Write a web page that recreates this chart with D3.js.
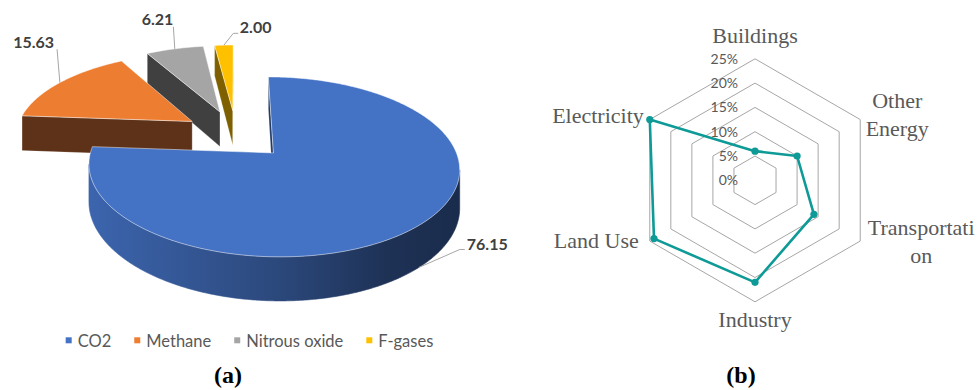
<!DOCTYPE html>
<html>
<head>
<meta charset="utf-8">
<script src="https://cdn.jsdelivr.net/npm/d3@7"></script>
<style>
  html, body { margin: 0; padding: 0; background: #fff; }
  svg { display: block; }
</style>
</head>
<body>
<svg id="chart" width="979" height="390"></svg>
<script>
// ---- data -------------------------------------------------------------
const gases = ["CO2", "Methane", "Nitrous oxide", "F-gases"];
const gasShares = [76.15, 15.63, 6.21, 2.00];

const sectors = ["Buildings", "Other Energy", "Transportation", "Industry", "Land Use", "Electricity"];
const sectorShares = [6, 10, 14, 21, 24, 25];
const radarTicks = [0, 5, 10, 15, 20, 25];

const panelLabels = ["(a)", "(b)"];

// ---- styles -----------------------------------------------------------
const gasColors = ["#4472C4", "#ED7D31", "#A5A5A5", "#FFC000"];
const gasFaceColors = ["#1F3864", "#5E3218", "#404040", "#7F6000"];
const textGray = "#595959";
const labelDark = "#404040";

const svg = d3.select("#chart");
const defs = svg.append("defs");

// =======================================================================
// (a) exploded 3-D pie
// =======================================================================
const pie3d = { cx: 236, cy: 134.3, rx: 177, ry: 82.1, persp: 0.15, explode: 0.3, depth: 36 };

// disc coordinates (u to the right, v toward the viewer, z = 0 top / 1 bottom) -> screen
function project(u, v, z) {
  const s = 1 / (1 - pie3d.persp * v);
  return [pie3d.cx + pie3d.rx * u * s, pie3d.cy + pie3d.ry * v * s + z * pie3d.depth * s];
}
function signedArea(pts) {
  let a = 0;
  for (let i = 0; i < pts.length; i++) {
    const p = pts[i], q = pts[(i + 1) % pts.length];
    a += p[0] * q[1] - q[0] * p[1];
  }
  return a / 2;
}
const poly = d3.line().curve(d3.curveLinearClosed);

const arcs = d3.pie().sort(null).value(d => d)(gasShares);

const slices = arcs.map((a, i) => {
  const mid = (a.startAngle + a.endAngle) / 2;
  const ou = pie3d.explode * Math.sin(mid);
  const ov = -pie3d.explode * Math.cos(mid);
  const rim = (ang, z) => project(ou + Math.sin(ang), ov - Math.cos(ang), z);
  const ctr = z => project(ou, ov, z);
  const n = Math.max(2, Math.ceil((a.endAngle - a.startAngle) / 0.01) + 1);
  const angs = d3.range(n).map(k => a.startAngle + (a.endAngle - a.startAngle) * k / (n - 1));
  return { i, arc: a, mid, ou, ov, rim, ctr, angs };
});

const pieG = svg.append("g").attr("class", "pie3d");

// paint from the back of the scene to the front
slices.slice().sort((p, q) => p.ov - q.ov).forEach(sl => {
  const g = pieG.append("g");
  const col = d3.color(gasColors[sl.i]);
  const a0 = sl.arc.startAngle, a1 = sl.arc.endAngle;

  // side wall gradient, lighter on the left, darker on the right
  const topPts = sl.angs.map(a => sl.rim(a, 0));
  const botPts = sl.angs.map(a => sl.rim(a, 1));
  const xs = topPts.map(p => p[0]);
  const gid = "wall" + sl.i;
  const grad = defs.append("linearGradient").attr("id", gid)
    .attr("gradientUnits", "userSpaceOnUse")
    .attr("x1", d3.min(xs)).attr("x2", d3.max(xs)).attr("y1", 0).attr("y2", 0);
  [[0, 0.33], [0.5, 1.25], [0.8, 2.3], [1, 2.65]].forEach(([o, k]) =>
    grad.append("stop").attr("offset", o).attr("stop-color", col.darker(k).formatHex()));

  // outer wall: only the segments facing the viewer
  let run = [];
  const runs = [];
  for (let k = 0; k < sl.angs.length - 1; k++) {
    const quad = [topPts[k], topPts[k + 1], botPts[k + 1], botPts[k]];
    if (signedArea(quad) < 0) { run.push(k); }
    else if (run.length) { runs.push(run); run = []; }
  }
  if (run.length) runs.push(run);
  runs.forEach(r => {
    const first = r[0], last = r[r.length - 1] + 1;
    const pts = topPts.slice(first, last + 1).concat(botPts.slice(first, last + 1).reverse());
    g.append("path").attr("d", poly(pts))
      .attr("fill", `url(#${gid})`).attr("stroke", `url(#${gid})`).attr("stroke-width", 0.6);
  });

  // radial cut faces
  const startFace = [sl.ctr(0), sl.rim(a0, 0), sl.rim(a0, 1), sl.ctr(1)];
  const endFace = [sl.ctr(0), sl.rim(a1, 0), sl.rim(a1, 1), sl.ctr(1)];
  if (signedArea(startFace) < 0)
    g.append("path").attr("d", poly(startFace)).attr("fill", gasFaceColors[sl.i])
      .attr("stroke", "rgba(255,255,255,0.35)").attr("stroke-width", 0.6);
  if (signedArea(endFace) > 0)
    g.append("path").attr("d", poly(endFace)).attr("fill", gasFaceColors[sl.i])
      .attr("stroke", "rgba(255,255,255,0.35)").attr("stroke-width", 0.6);

  // top surface
  g.append("path").attr("d", poly([sl.ctr(0)].concat(topPts)))
    .attr("fill", gasColors[sl.i])
    .attr("stroke", "rgba(255,255,255,0.6)").attr("stroke-width", 0.8)
    .attr("stroke-linejoin", "round");
});

// data labels with leader lines
const valueFmt = d3.format(".2f");
const labelPlace = [
  { rimZ: 1, elbow: [41, -18], tail: 5, anchor: "start", tx: 2, ty: 1 },
  { rimZ: 0, elbow: [-2.8, -33.5], tail: 0, anchor: "end", tx: -3, ty: -1 },
  { rimZ: 0, elbow: [-1.4, -22], tail: 0, anchor: "end", tx: 0, ty: -1.5 },
  { rimZ: 0, elbow: [9.4, -11.8], tail: 5, anchor: "start", tx: 1.5, ty: 0 }
];
slices.forEach(sl => {
  const lp = labelPlace[sl.i];
  const p0 = sl.rim(sl.mid, lp.rimZ);
  const p1 = [p0[0] + lp.elbow[0], p0[1] + lp.elbow[1]];
  const p2 = [p1[0] + lp.tail, p1[1]];
  pieG.append("path").attr("d", d3.line()([p0, p1, p2]))
    .attr("fill", "none").attr("stroke", "#A6A6A6").attr("stroke-width", 1);
  pieG.append("text")
    .attr("x", p2[0] + lp.tx).attr("y", p2[1] + lp.ty)
    .attr("text-anchor", lp.anchor)
    .attr("font-family", "Lato, 'Open Sans', sans-serif")
    .attr("font-weight", 700).attr("font-size", 16)
    .attr("fill", labelDark)
    .text(valueFmt(gasShares[sl.i]));
});

// legend
const legend = svg.append("g").attr("class", "legend");
const legendFont = { family: "Lato, 'Open Sans', sans-serif", size: 16.5 };
const legendItems = legend.selectAll("g").data(gases).join("g");
legendItems.append("rect")
  .attr("width", 6).attr("height", 6).attr("y", 337.3)
  .attr("fill", (d, i) => gasColors[i]);
legendItems.append("text")
  .attr("y", 346.6)
  .attr("font-family", legendFont.family).attr("font-size", legendFont.size)
  .attr("fill", textGray)
  .text(d => d);
{
  const widths = legendItems.select("text").nodes().map(n => n.getComputedTextLength());
  const gap = 23, boxToText = 12;
  const total = d3.sum(widths) + widths.length * boxToText + (widths.length - 1) * gap;
  let x = 249.5 - total / 2;
  legendItems.each(function (d, i) {
    d3.select(this).select("rect").attr("x", x);
    d3.select(this).select("text").attr("x", x + boxToText);
    x += boxToText + widths[i] + gap;
  });
}

// =======================================================================
// (b) radar chart
// =======================================================================
const radar = { cx: 755, cy: 180.3, radius: 121.5 };
const rScale = d3.scaleLinear().domain([0, d3.max(radarTicks)]).range([0, radar.radius]);
const axisAngle = i => i * 2 * Math.PI / sectors.length;
const radarPt = (i, r) => [radar.cx + r * Math.sin(axisAngle(i)), radar.cy - r * Math.cos(axisAngle(i))];

const radarG = svg.append("g").attr("class", "radar");

// hexagonal gridlines
radarG.selectAll("path.ring").data(radarTicks.filter(t => t > 0)).join("path")
  .attr("class", "ring")
  .attr("d", t => poly(sectors.map((s, i) => radarPt(i, rScale(t)))))
  .attr("fill", "none").attr("stroke", "#A6A6A6").attr("stroke-width", 1);

// tick labels
const pct = d => d + "%";
radarG.selectAll("text.tick").data(radarTicks).join("text")
  .attr("class", "tick")
  .attr("x", radar.cx - 17)
  .attr("y", t => radar.cy - rScale(t))
  .attr("dy", "0.36em")
  .attr("text-anchor", "end")
  .attr("font-family", "Lato, 'Open Sans', sans-serif").attr("font-size", 14)
  .attr("fill", textGray)
  .text(pct);

// series line + markers
const radial = d3.lineRadial()
  .angle((d, i) => axisAngle(i))
  .radius(d => rScale(d))
  .curve(d3.curveLinearClosed);
const seriesColor = "#0E9A96";
radarG.append("path")
  .attr("transform", `translate(${radar.cx},${radar.cy})`)
  .attr("d", radial(sectorShares))
  .attr("fill", "none").attr("stroke", seriesColor).attr("stroke-width", 2.6)
  .attr("stroke-linejoin", "round");
radarG.selectAll("circle").data(sectorShares).join("circle")
  .attr("cx", (d, i) => radarPt(i, rScale(d))[0])
  .attr("cy", (d, i) => radarPt(i, rScale(d))[1])
  .attr("r", 3.6).attr("fill", seriesColor);

// category labels, wrapped to the room beside the plot
const catFont = { family: "'Liberation Serif', 'Times New Roman', serif", size: 22 };
const measurer = svg.append("text")
  .attr("font-family", catFont.family).attr("font-size", catFont.size)
  .attr("visibility", "hidden");
const measure = s => { measurer.text(s); return measurer.node().getComputedTextLength(); };
function wrapLabel(text, maxW) {
  const lines = [];
  let cur = "";
  text.split(" ").forEach(w => {
    const cand = cur ? cur + " " + w : w;
    if (measure(cand) <= maxW || !cur) cur = cand;
    else { lines.push(cur); cur = w; }
  });
  lines.push(cur);
  const out = [];
  lines.forEach(line => {
    let rest = line;
    while (measure(rest) > maxW && rest.length > 1) {
      let k = rest.length - 1;
      while (k > 1 && measure(rest.slice(0, k)) > maxW) k--;
      out.push(rest.slice(0, k));
      rest = rest.slice(k);
    }
    out.push(rest);
  });
  return out;
}
const catPlace = [
  { anchor: "middle", dx: 0, dy: -16 },
  { anchor: "middle", dx: 37, dy: -11.5 },
  { anchor: "middle", dx: 61, dy: -6 },
  { anchor: "middle", dx: 0, dy: 25.5 },
  { anchor: "end", dx: -11, dy: 7 },
  { anchor: "end", dx: -6, dy: 3.5 }
];
const lineHeight = 28;
sectors.forEach((name, i) => {
  const v = radarPt(i, radar.radius);
  const cp = catPlace[i];
  const lines = wrapLabel(name, 112);
  const t = radarG.append("text")
    .attr("text-anchor", cp.anchor)
    .attr("font-family", catFont.family).attr("font-size", catFont.size)
    .attr("fill", textGray);
  lines.forEach((ln, k) => {
    t.append("tspan").attr("x", v[0] + cp.dx).attr("y", v[1] + cp.dy + k * lineHeight).text(ln);
  });
});
measurer.remove();

// panel captions
svg.selectAll("text.panel").data(panelLabels).join("text")
  .attr("class", "panel")
  .attr("x", (d, i) => [228, 741][i])
  .attr("y", 383)
  .attr("text-anchor", "middle")
  .attr("font-family", "'Liberation Serif', 'Times New Roman', serif")
  .attr("font-weight", 700).attr("font-size", 24)
  .attr("fill", "#000")
  .text(d => d);
</script>
</body>
</html>
